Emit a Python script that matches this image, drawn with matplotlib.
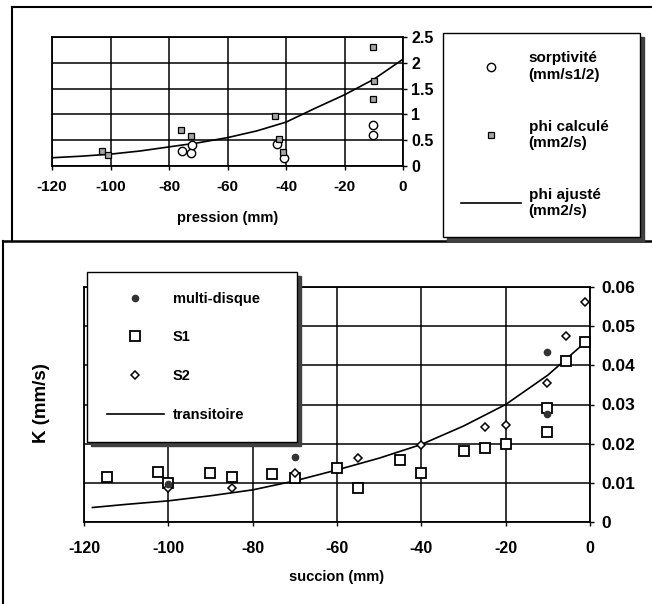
import matplotlib.pyplot as plt
from matplotlib.lines import Line2D

# ---- top panel: pression ----
sorp_x = [-75.5, -72.5, -72, -43, -40.7, -10.3, -10.3]
sorp_y = [0.30, 0.26, 0.40, 0.42, 0.16, 0.80, 0.61]

phi_calc_x = [-103, -101, -76, -72.5, -43.8, -42.4, -41, -10.3, -10, -10.3]
phi_calc_y = [0.30, 0.21, 0.70, 0.58, 0.96, 0.53, 0.28, 2.30, 1.65, 1.30]

phi_fit_x = [-120, -110, -100, -90, -80, -70, -60, -50, -40, -30, -20, -10, 0]
phi_fit_y = [0.16, 0.19, 0.23, 0.29, 0.37, 0.45, 0.55, 0.68, 0.85, 1.12, 1.38, 1.68, 2.07]

# ---- bottom panel: succion ----
multi_x = [-100, -70, -10.3, -10.3]
multi_y = [0.0097, 0.0166, 0.0435, 0.0276]

s1_x = [-114.6, -102.5, -100, -90.2, -85, -75.3, -70, -60, -55, -45, -40, -30,
        -25, -20, -10.3, -10.3, -5.7, -1.2]
s1_y = [0.0115, 0.0128, 0.0099, 0.0125, 0.0115, 0.0122, 0.0112, 0.0138, 0.0087,
        0.0158, 0.0125, 0.0182, 0.0190, 0.0200, 0.0230, 0.0290, 0.0410, 0.0460]

s2_x = [-100, -85, -70, -55, -40, -25, -20, -10.3, -5.7, -1.2]
s2_y = [0.0086, 0.0088, 0.0125, 0.0163, 0.0196, 0.0243, 0.0248, 0.0354, 0.0475, 0.0561]

trans_x = [-118, -110, -100, -90, -80, -70, -60, -50, -40, -30, -20, -10, -1]
trans_y = [0.0037, 0.0045, 0.0054, 0.0067, 0.0082, 0.0105, 0.0133, 0.0163,
           0.0198, 0.0245, 0.0300, 0.0375, 0.0460]

W, H = 652, 604
plt.rcParams['font.family'] = ['Liberation Sans', 'DejaVu Sans']
plt.rcParams['font.weight'] = 'bold'
plt.rcParams['axes.labelweight'] = 'bold'
plt.rcParams['axes.unicode_minus'] = False

fig = plt.figure(figsize=(W / 100, H / 100), dpi=100)


def fx(px):
    return px / W


def fy(py):
    return 1 - py / H


def style_axes(ax, xpad, ypad, xsize, ysize):
    ax.yaxis.tick_right()
    ax.grid(True, color='black', linewidth=1.1)
    ax.set_axisbelow(True)
    for sp in ax.spines.values():
        sp.set_linewidth(1.3)
    ax.tick_params(axis='x', length=3, width=1, pad=xpad, labelsize=xsize)
    ax.tick_params(axis='y', length=3, width=1, pad=ypad, labelsize=ysize)


# top chart
ax1 = fig.add_axes([fx(52), fy(166), fx(403 - 52), (166 - 37) / H])
ax1.plot(phi_fit_x, phi_fit_y, color='black', linewidth=1.2, label='phi ajusté\n(mm2/s)')
ax1.plot(sorp_x, sorp_y, linestyle='none', marker='o', markersize=6,
         markerfacecolor='white', markeredgecolor='black', markeredgewidth=1,
         label='sorptivité\n(mm/s1/2)')
ax1.plot(phi_calc_x, phi_calc_y, linestyle='none', marker='s', markersize=4.5,
         markerfacecolor='0.65', markeredgecolor='black', markeredgewidth=0.9,
         label='phi calculé\n(mm2/s)')
ax1.set_xlim(-120, 0)
ax1.set_ylim(0, 2.5)
ax1.set_xticks(range(-120, 1, 20))
ax1.set_yticks([0, 0.5, 1, 1.5, 2, 2.5])
ax1.set_yticklabels(['0', '0.5', '1', '1.5', '2', '2.5'])
style_axes(ax1, 7, 3, 11, 11.5)
ax1.set_xlabel('pression (mm)', fontsize=10.5, labelpad=12)

h1, l1 = ax1.get_legend_handles_labels()
order1 = [1, 2, 0]
leg1 = fig.legend([h1[i] for i in order1], [l1[i] for i in order1],
                  loc='upper left',
                  bbox_to_anchor=(fx(443), fy(33), fx(640 - 443), 0),
                  mode='expand', fontsize=11, frameon=True, fancybox=False,
                  edgecolor='black', framealpha=1, labelspacing=2.5,
                  borderpad=1.2, borderaxespad=0, handlelength=3.9,
                  handletextpad=0.5,
                  shadow={'ox': 3, 'oy': -3, 'color': '0.25', 'alpha': 1})
leg1.get_frame().set_linewidth(1.0)

# bottom chart
ax2 = fig.add_axes([fx(84), fy(522), fx(590 - 84), (522 - 287) / H])
ax2.plot(trans_x, trans_y, color='black', linewidth=1.2, label='transitoire')
ax2.plot(s1_x, s1_y, linestyle='none', marker='s', markersize=7,
         markerfacecolor='white', markeredgecolor='black', markeredgewidth=1.3,
         label='S1')
ax2.plot(s2_x, s2_y, linestyle='none', marker='D', markersize=4.5,
         markerfacecolor='white', markeredgecolor='black', markeredgewidth=1.1,
         label='S2')
ax2.plot(multi_x, multi_y, linestyle='none', marker='o', markersize=4.5,
         markerfacecolor='0.2', markeredgecolor='0.2', label='multi-disque')
ax2.set_xlim(-120, 0)
ax2.set_ylim(0, 0.06)
ax2.set_xticks(range(-120, 1, 20))
ax2.set_yticks([0, 0.01, 0.02, 0.03, 0.04, 0.05, 0.06])
ax2.set_yticklabels(['0', '0.01', '0.02', '0.03', '0.04', '0.05', '0.06'])
style_axes(ax2, 11, 5, 11.5, 12.5)
ax2.set_xlabel('succion (mm)', fontsize=10.5, labelpad=10)
fig.text(fx(42), fy(403), 'K (mm/s)', rotation=90, ha='center', va='center',
         fontsize=13.5)

h2, l2 = ax2.get_legend_handles_labels()
order2 = [3, 1, 2, 0]
leg2 = fig.legend([h2[i] for i in order2], [l2[i] for i in order2],
                  loc='upper left',
                  bbox_to_anchor=(fx(87), fy(272), fx(297 - 87), 0),
                  mode='expand', fontsize=10.5, frameon=True, fancybox=False,
                  edgecolor='black', framealpha=1, labelspacing=1.7,
                  borderpad=1.35, borderaxespad=0, handlelength=3.95,
                  handletextpad=0.6,
                  shadow={'ox': 3, 'oy': -3, 'color': '0.25', 'alpha': 1})
leg2.get_frame().set_linewidth(1.0)

# panel frame lines
fig.add_artist(Line2D([fx(12), fx(652)], [fy(7), fy(7)], color='black', lw=1.5))
fig.add_artist(Line2D([fx(12), fx(12)], [fy(7), fy(240)], color='black', lw=1.5))
fig.add_artist(Line2D([fx(3), fx(652)], [fy(241), fy(241)], color='black', lw=1.8))
fig.add_artist(Line2D([fx(3), fx(3)], [fy(241), fy(604)], color='black', lw=1.5))

fig.savefig('out.png', dpi=100)
